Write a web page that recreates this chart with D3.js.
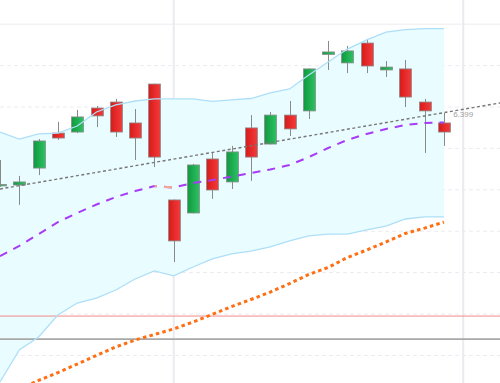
<!DOCTYPE html>
<html><head><meta charset="utf-8">
<script src="https://cdn.jsdelivr.net/npm/d3@7"></script>
<style>html,body{margin:0;padding:0;background:#fff;overflow:hidden}</style>
</head><body><svg id="c" width="500" height="383"></svg>
<script>
// ---- data (price units) ----
const opens  = [6.3621,6.3623,6.3705,6.3874,6.3879,6.3995,6.4024,6.3923,6.4111,6.3551,6.3488,6.3749,6.3638,6.3899,6.3821,6.3961,6.3981,6.4254,6.4213,6.4309,6.4179,6.4184,6.4024,6.3923];
const highs  = [6.3744,6.3667,6.3845,6.3928,6.3986,6.4005,6.4039,6.3990,6.4113,6.3553,6.3725,6.3783,6.3812,6.3961,6.3976,6.4029,6.4186,6.4319,6.4295,6.4329,6.4222,6.4227,6.4039,6.3971];
const lows   = [6.3614,6.3527,6.3671,6.3841,6.3874,6.3903,6.3855,6.3744,6.3710,6.3251,6.3486,6.3556,6.3604,6.3643,6.3819,6.3860,6.3942,6.4179,6.4164,6.4164,6.4145,6.4000,6.3778,6.3812];
const closes = [6.3626,6.3638,6.3836,6.3850,6.3952,6.3957,6.3879,6.3850,6.3758,6.3353,6.3720,6.3599,6.3783,6.3758,6.3961,6.3894,6.4184,6.4266,6.4271,6.4198,6.4193,6.4048,6.3981,6.3879];
const upperBand  = [6.3879,6.3845,6.3870,6.3874,6.3908,6.3976,6.4010,6.4029,6.4039,6.4039,6.4039,6.4027,6.4034,6.4041,6.4068,6.4087,6.4155,6.4217,6.4280,6.4324,6.4362,6.4374,6.4379,6.4379];
const middleBand = [6.3280,6.3329,6.3386,6.3444,6.3488,6.3529,6.3565,6.3594,6.3618,6.3611,6.3633,6.3647,6.3664,6.3681,6.3698,6.3720,6.3758,6.3802,6.3841,6.3870,6.3894,6.3913,6.3923,6.3925];
const lowerBand  = [6.2672,6.2826,6.2889,6.2995,6.3053,6.3077,6.3116,6.3169,6.3208,6.3184,6.3227,6.3266,6.3290,6.3304,6.3324,6.3353,6.3377,6.3386,6.3386,6.3406,6.3425,6.3459,6.3469,6.3469];
const slowMA     = [null,6.2638,6.2679,6.2717,6.2758,6.2800,6.2841,6.2874,6.2901,6.2928,6.2961,6.2998,6.3036,6.3070,6.3106,6.3147,6.3191,6.3225,6.3273,6.3309,6.3348,6.3389,6.3415,6.3444];
const trendIdx   = [0, 26];
const trendVals  = [6.3604, 6.4021];
const trendLabel = "6.399";
const trendLabelIdx = 24;
const gridTicks  = [6.28,6.30,6.32,6.34,6.36,6.38,6.40,6.42,6.44];
const separators = [9, 24];
const redLevel   = 6.2990;
const greyLevel  = 6.2879;

// ---- scales ----
const W = 500, H = 383;
const svg = d3.select("#c");
const x = d3.scaleLinear().domain([0, 25.9067]).range([0, W]);
const y = d3.scaleLinear().domain([6.26667, 6.45169]).range([H, 0]);
const idx = d3.range(opens.length);

const defs = svg.append("defs");
const gR = defs.append("linearGradient").attr("id","gr");
gR.append("stop").attr("offset","0").attr("stop-color","#d81a1a");
gR.append("stop").attr("offset","1").attr("stop-color","#f23c3c");
const gG = defs.append("linearGradient").attr("id","gg");
gG.append("stop").attr("offset","0").attr("stop-color","#11993f");
gG.append("stop").attr("offset","1").attr("stop-color","#2cc262");

// grid
svg.append("g").selectAll("line").data(gridTicks).join("line")
  .attr("x1",0).attr("x2",W).attr("y1",d=>y(d)).attr("y2",d=>y(d))
  .attr("stroke","#ececf0").attr("stroke-width",1)
  .attr("stroke-dasharray",(d,i)=> i===gridTicks.length-1 ? null : "4,3");
svg.append("g").selectAll("line").data(separators).join("line")
  .attr("x1",d=>x(d)).attr("x2",d=>x(d)).attr("y1",0).attr("y2",H)
  .attr("stroke","#ebebef").attr("stroke-width",2);

// bollinger fill
const area = d3.area().x(i=>x(i)).y0(i=>y(lowerBand[i])).y1(i=>y(upperBand[i]));
svg.append("path").datum(idx).attr("d",area).attr("fill","#e9fcff");

// horizontal levels
svg.append("line").attr("x1",0).attr("x2",W).attr("y1",y(redLevel)).attr("y2",y(redLevel))
  .attr("stroke","#f28a8a").attr("stroke-width",1);
svg.append("line").attr("x1",0).attr("x2",W).attr("y1",y(greyLevel)).attr("y2",y(greyLevel))
  .attr("stroke","#a8a8a8").attr("stroke-width",1.8);

// candles
const bw = 12;
const cg = svg.append("g");
cg.selectAll("line.w").data(idx).join("line").attr("class","w")
  .attr("x1",i=>Math.round(x(i))+0.5).attr("x2",i=>Math.round(x(i))+0.5)
  .attr("y1",i=>y(highs[i])).attr("y2",i=>y(lows[i]))
  .attr("stroke","#8a8a8a").attr("stroke-width",1);
cg.selectAll("rect").data(idx).join("rect")
  .attr("x",i=>Math.round(x(i))+0.5-bw/2)
  .attr("y",i=>y(Math.max(opens[i],closes[i])))
  .attr("width",bw)
  .attr("height",i=>Math.max(1.5, Math.abs(y(opens[i])-y(closes[i]))))
  .attr("fill",i=>closes[i]>=opens[i]?"url(#gg)":"url(#gr)")
  .attr("stroke","#8c8c8c").attr("stroke-width",0.8);

// band lines
const lineU = d3.line().x(i=>x(i)).y(i=>y(upperBand[i]));
const lineL = d3.line().x(i=>x(i)).y(i=>y(lowerBand[i]));
svg.append("path").datum(idx).attr("d",lineU).attr("fill","none").attr("stroke","#addff8").attr("stroke-width",1.3);
svg.append("path").datum(idx).attr("d",lineL).attr("fill","none").attr("stroke","#addff8").attr("stroke-width",1.3);

// slow MA (orange)
const lineS = d3.line().defined(i=>slowMA[i]!==null).x(i=>x(i)).y(i=>y(slowMA[i]));
svg.append("path").datum(idx).attr("d",lineS).attr("fill","none")
  .attr("stroke","#ff6f12").attr("stroke-width",3).attr("stroke-dasharray","3.5,3.2");

// middle band (purple, salmon where falling)
const lineM = d3.line().x(i=>x(i)).y(i=>y(middleBand[i]));
svg.append("path").datum(idx).attr("d",lineM).attr("fill","none")
  .attr("stroke","#a63cf5").attr("stroke-width",2).attr("stroke-dasharray","8,7");
idx.slice(0,-1).forEach(i=>{
  if (middleBand[i+1] < middleBand[i]) {
    const id = "clipf"+i;
    defs.append("clipPath").attr("id",id).append("rect")
      .attr("x",x(i)).attr("y",0).attr("width",x(i+1)-x(i)).attr("height",H);
    svg.append("path").datum(idx).attr("d",lineM).attr("fill","none")
      .attr("clip-path","url(#"+id+")")
      .attr("stroke","#f2a69c").attr("stroke-width",2.2).attr("stroke-dasharray","8,7");
  }
});

// trend line
svg.append("line")
  .attr("x1",x(trendIdx[0])).attr("y1",y(trendVals[0]))
  .attr("x2",x(trendIdx[1])).attr("y2",y(trendVals[1]))
  .attr("stroke","#777").attr("stroke-width",1.4).attr("stroke-dasharray","3,2.5");
svg.append("text").attr("x",x(trendLabelIdx)).attr("y",y(+trendLabel)+8)
  .attr("text-anchor","middle").attr("font-family","Liberation Sans, Arial, sans-serif")
  .attr("font-size",8).attr("fill","#a0a0a0").text(trendLabel);
</script></body></html>
